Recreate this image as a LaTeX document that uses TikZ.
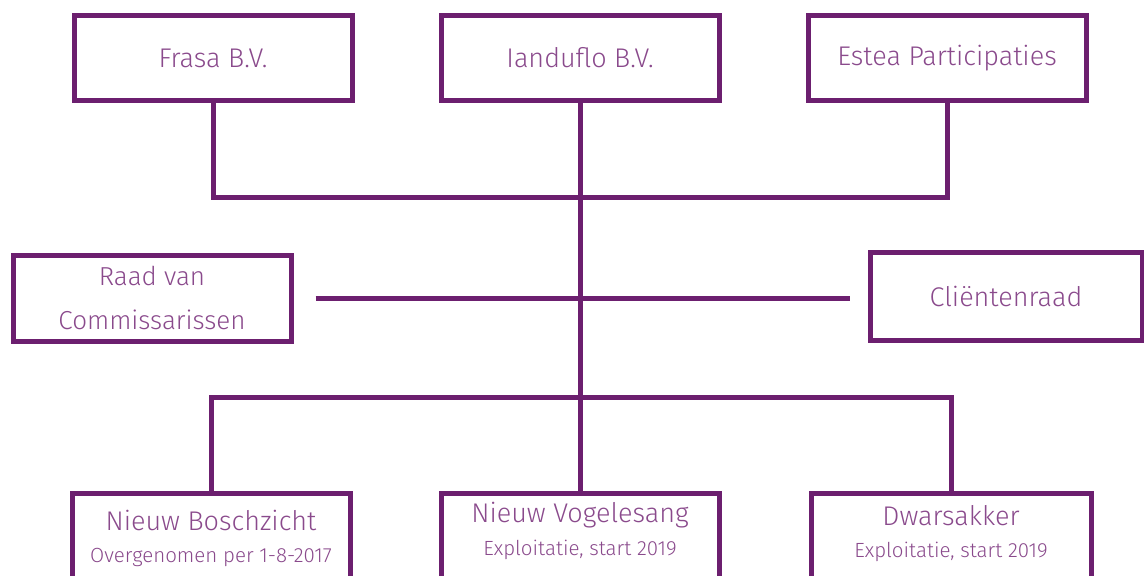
\documentclass[tikz,border=0pt]{standalone}
\usepackage{fontspec}
\setmainfont{Fira Sans}[UprightFont=* Light]
\definecolor{linec}{HTML}{6C1F6F}
\definecolor{textc}{HTML}{8A4A8C}
\begin{document}
\begin{tikzpicture}[x=1pt,y=-1pt,
  box/.style={draw=linec,line width=5pt,minimum width=278pt,minimum height=85pt,inner sep=0pt,text=textc,font=\fontsize{27}{30}\selectfont,align=center},
  conn/.style={draw=linec,line width=5pt},
  ttl/.style={text=textc,font=\fontsize{27}{30}\selectfont},
  sub/.style={text=textc,font=\fontsize{20.5}{23}\selectfont}]
\useasboundingbox (0,0) rectangle (1144,576);
\node[box] (frasa) at (213,58) {Frasa B.V.};
\node[box] (iand) at (580,58) {Ianduflo B.V.};
\node[box] (estea) at (947,58) {Estea Participaties};
\node[box,minimum height=86pt,font=\fontsize{26}{44}\selectfont] (raad) at (152,298) {Raad van\\Commissarissen};
\node[box,minimum width=272pt,minimum height=88pt] (clnt) at (1006,296) {Cliëntenraad};
\node[box,minimum height=100pt] (nb) at (211,543) {};
\node[box,minimum height=100pt] (nv) at (580,543) {};
\node[box,minimum width=280pt,minimum height=100pt] (dw) at (951,543) {};
\node[ttl] (nbt) at (211,520) {Nieuw Boschzicht};
\node[sub] (nbs) at (211,557) {Overgenomen per 1-8-2017};
\node[ttl] (nvt) at (580,515) {Nieuw Vogelesang};
\node[sub] (nvs) at (580,550) {Exploitatie, start 2019};
\node[ttl] (dwt) at (951,516) {Dwarsakker};
\node[sub] (dws) at (951,552) {Exploitatie, start 2019};
\coordinate (jt) at (580,197);
\coordinate (jb) at (580,397);
\draw[conn] (frasa.south) |- (jt) -| (estea.south);
\draw[conn] (iand.south) -- (jb);
\draw[conn,shorten <=22pt,shorten >=18pt] (raad.east) -- (clnt.west |- raad.east);
\draw[conn] (nb.north) |- (jb) -| (dw.north);
\draw[conn] (jb) -- (nv.north);
\end{tikzpicture}
\end{document}
